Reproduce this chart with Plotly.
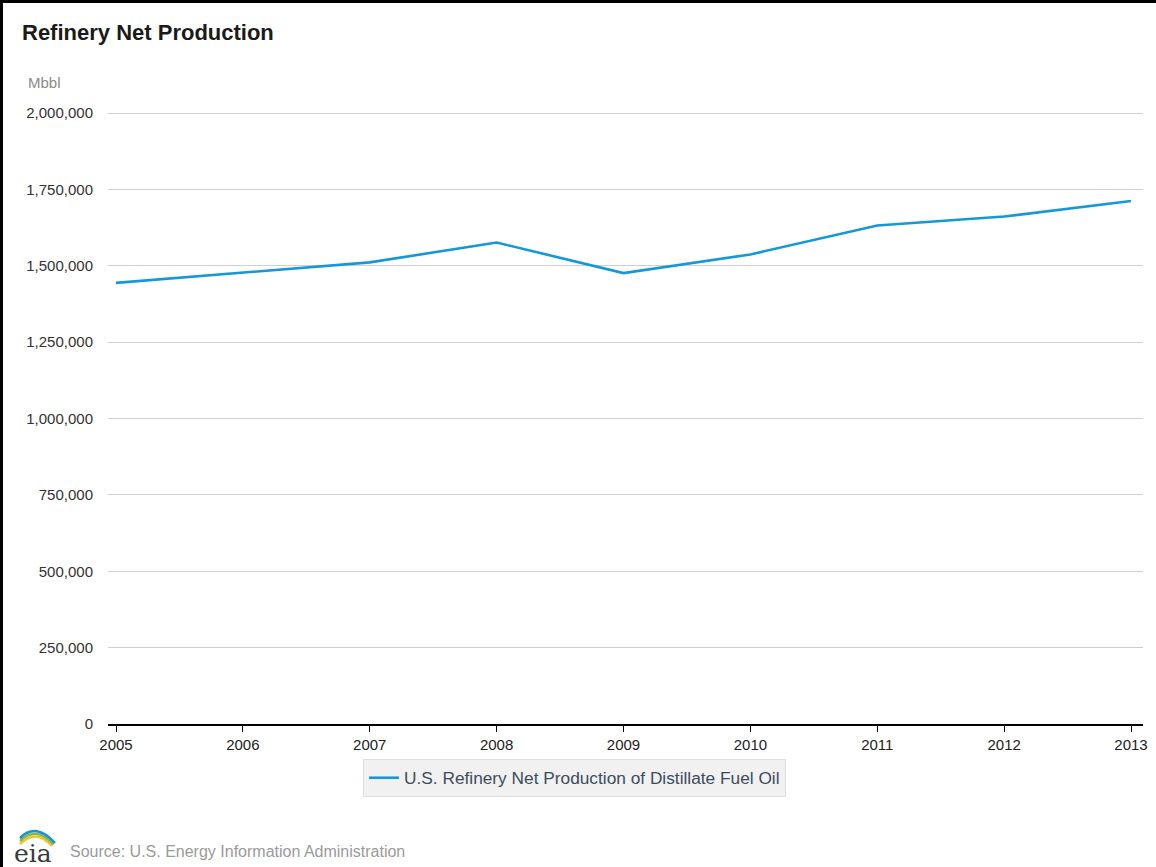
import plotly.graph_objects as go

years = [2005, 2006, 2007, 2008, 2009, 2010, 2011, 2012, 2013]
production = [1444000, 1477000, 1511000, 1576000, 1476000, 1537000, 1632000, 1661000, 1712000]
series_name = "U.S. Refinery Net Production of Distillate Fuel Oil"
y_ticks = [0, 250000, 500000, 750000, 1000000, 1250000, 1500000, 1750000, 2000000]

W, H = 1156, 867
L, R, T, B = 108, 13, 111, 143
pw, ph = W - L - R, H - T - B
y_top = 2000000 * ph / (ph - 2)

def px_x(x):
    return (x - L) / pw

def px_y(y):
    return (H - B - y) / ph

font = "Liberation Sans, Arial, sans-serif"

fig = go.Figure()
fig.add_trace(go.Scatter(
    x=years, y=production, mode="lines", name=series_name,
    line=dict(color="#1598d8", width=2.6),
    showlegend=True,
))

fig.update_layout(
    width=W, height=H,
    margin=dict(l=L, r=R, t=T, b=B, autoexpand=False),
    paper_bgcolor="white", plot_bgcolor="white",
    font=dict(family=font, size=14, color="#333"),
    title=dict(text="<b>Refinery Net Production</b>", x=22 / W, xanchor="left",
               y=1 - 32 / H, yanchor="middle",
               font=dict(family=font, size=22, color="#1a1a1a")),
    xaxis=dict(
        range=[2005 - 8 / 126.9, 2013 + 12 / 126.9],
        tickvals=years, ticktext=[str(y) for y in years],
        showgrid=False, zeroline=False, automargin=False,
        showline=True, linecolor="#000", linewidth=2,
        ticks="outside", ticklen=6, tickcolor="#000", tickwidth=1,
        tickfont=dict(family=font, size=15, color="#222"),
    ),
    yaxis=dict(
        range=[0, y_top], tickvals=y_ticks, tickformat=",",
        showgrid=True, gridcolor="#cfcfcf", gridwidth=1,
        zeroline=False, showline=False, ticks="", automargin=False,
        ticklabelstandoff=14,
        tickfont=dict(family=font, size=15, color="#333"),
    ),
    legend=dict(
        orientation="h", x=px_x(363), xanchor="left", y=px_y(759), yanchor="top",
        bgcolor="#f1f1f1", bordercolor="#dedede", borderwidth=1,
        font=dict(family=font, size=17.3, color="#3b4c5e"),
        itemwidth=30,
    ),
    showlegend=True,
)

fig.add_annotation(text="Mbbl", xref="paper", yref="paper",
                   x=px_x(26), y=px_y(82), xanchor="left", yanchor="middle",
                   showarrow=False, font=dict(family=font, size=15, color="#8a8a8a"))

fig.add_annotation(text="Source: U.S. Energy Information Administration", xref="paper", yref="paper",
                   x=px_x(68), y=px_y(851), xanchor="left", yanchor="middle",
                   showarrow=False, font=dict(family=font, size=16, color="#9a9a9a"))

fig.add_annotation(text="eia", xref="paper", yref="paper",
                   x=px_x(12), y=px_y(853), xanchor="left", yanchor="middle",
                   showarrow=False, font=dict(family="DejaVu Serif, Liberation Serif, serif", size=25, color="#3a3a3a"))

# logo arcs
arcs = [("#f2c12e", 0), ("#7dbb42", 3), ("#1d8fd1", 6)]
for col, off in arcs:
    x0, y0 = px_x(20), px_y(844 - off)
    x1, y1 = px_x(36), px_y(828 - off)
    x2, y2 = px_x(52 + off / 2), px_y(846 - off / 2)
    fig.add_shape(type="path", xref="paper", yref="paper",
                  path=f"M {x0},{y0} Q {x1},{y1} {x2},{y2}",
                  line=dict(color=col, width=2.5))

# frame lines (top and left)
fig.add_shape(type="line", xref="paper", yref="paper",
              x0=px_x(0), x1=px_x(W), y0=px_y(1.5), y1=px_y(1.5),
              line=dict(color="#000", width=3))
fig.add_shape(type="line", xref="paper", yref="paper",
              x0=px_x(1.5), x1=px_x(1.5), y0=px_y(0), y1=px_y(H),
              line=dict(color="#000", width=3))

fig.write_html("out.html")
